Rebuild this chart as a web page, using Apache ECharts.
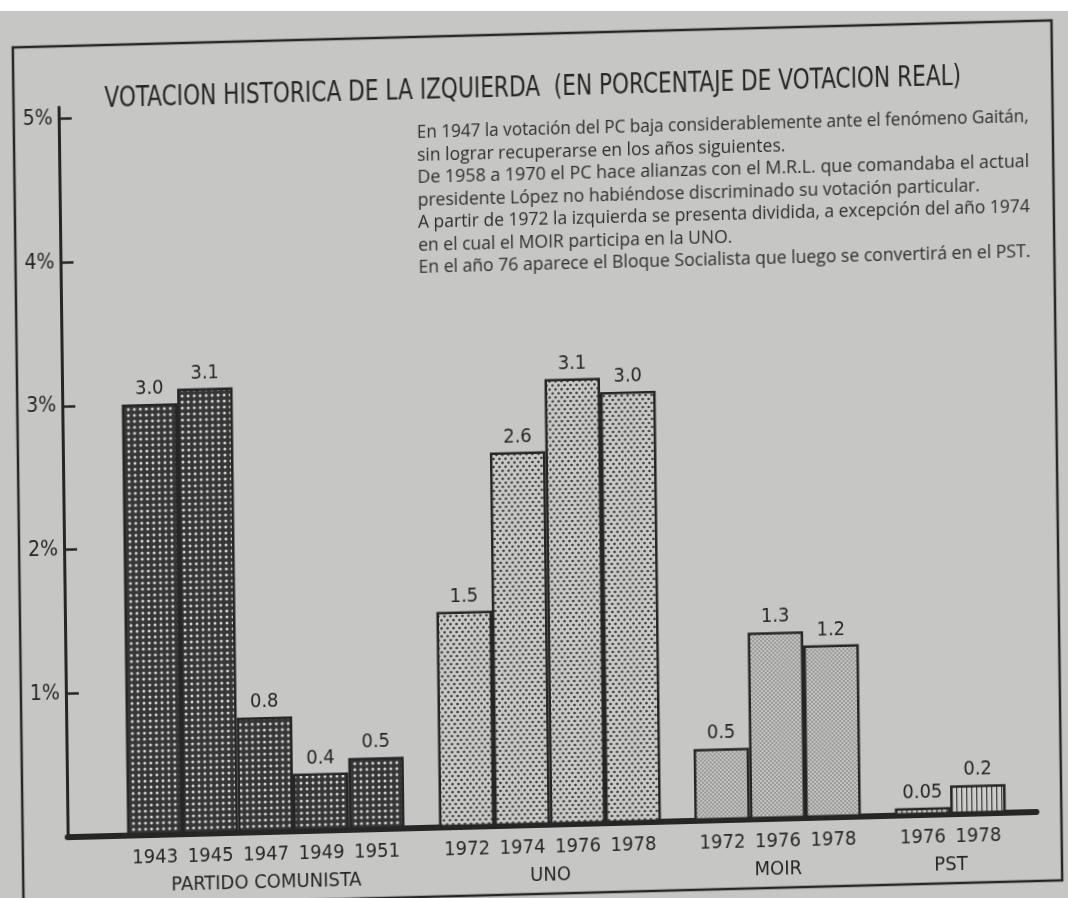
<!DOCTYPE html>
<html>
<head>
<meta charset="utf-8">
<title>Votación histórica de la izquierda</title>
<script src="https://cdn.jsdelivr.net/npm/echarts@6/dist/echarts.min.js"></script>
<style>
  html, body { margin: 0; padding: 0; background: #c6c6c4; overflow: hidden; }
  /* the scan is slightly skewed, so the whole chart is too */
  #chart {
    position: absolute; left: 0; top: 0; width: 1068px; height: 898px;
    transform: matrix(1, -0.026, 0.0125, 1, 0, 0);
    transform-origin: 534px 449px;
  }
  #edge { position: absolute; left: 0; top: 0; width: 1068px; height: 11px; background: #fff; }
</style>
</head>
<body>
<div id="chart"></div>
<div id="edge"></div>
<script>
// datos (porcentaje de votación real)
const pcYears = ["1943", "1945", "1947", "1949", "1951"];
const pcValues = [3.0, 3.1, 0.8, 0.4, 0.5];
const unoYears = ["1972", "1974", "1976", "1978"];
const unoValues = [1.5, 2.6, 3.1, 3.0];
const moirYears = ["1972", "1976", "1978"];
const moirValues = [0.5, 1.3, 1.2];
const pstYears = ["1976", "1978"];
const pstValues = [0.05, 0.2];
const groupNames = ["PARTIDO COMUNISTA", "UNO", "MOIR", "PST"];
const yTicks = [1, 2, 3, 4, 5];

const titleText = "VOTACION HISTORICA DE LA IZQUIERDA  (EN PORCENTAJE DE VOTACION REAL)";
const notes = [
  "En 1947 la votación del PC baja considerablemente ante el fenómeno Gaitán,",
  "sin lograr recuperarse en los años siguientes.",
  "De 1958 a 1970 el PC hace alianzas con el M.R.L. que comandaba el actual",
  "presidente López no habiéndose discriminado su votación particular.",
  "A partir de 1972 la izquierda se presenta dividida, a excepción del año 1974",
  "en el cual el MOIR participa en la UNO.",
  "En el año 76 aparece el Bloque Socialista que luego se convertirá en el PST.",
];

const INK = "#262626";
const NARROW = "'DejaVu Sans Condensed', 'Liberation Sans Narrow', sans-serif";
const NOTE_FONT = "18px 'Open Sans', 'Noto Sans', sans-serif";
const TOP = 95, BOTTOM = 73, YMAX = 5.08;

// tramas de las barras
const makePattern = (w, h, bg, draw) => {
  const c = document.createElement("canvas");
  c.width = w; c.height = h;
  const ctx = c.getContext("2d");
  ctx.fillStyle = bg;
  ctx.fillRect(0, 0, w, h);
  draw(ctx);
  return { image: c, repeat: "repeat" };
};
const dot = (ctx, x, y, r, color) => {
  ctx.fillStyle = color;
  ctx.beginPath(); ctx.arc(x, y, r, 0, Math.PI * 2); ctx.fill();
};
const patterns = [
  makePattern(6, 6, "#363636", (ctx) => dot(ctx, 3, 3, 1.5, "#d4d4d2")),
  makePattern(6, 8, "#c9c9c7", (ctx) => { dot(ctx, 1.5, 2, 1.3, "#3a3a3a"); dot(ctx, 4.5, 6, 1.3, "#3a3a3a"); }),
  makePattern(4, 4, "#c6c6c4", (ctx) => { dot(ctx, 1, 1, 0.75, "#505050"); dot(ctx, 3, 3, 0.75, "#505050"); }),
  makePattern(5, 5, "#cdcdcb", (ctx) => { ctx.fillStyle = "#3a3a3a"; ctx.fillRect(2, 0, 1.2, 5); }),
];

const groups = [
  { years: pcYears, values: pcValues, left: 122.5, width: 277.5 },
  { years: unoYears, values: unoValues, left: 434.5, width: 222 },
  { years: moirYears, values: moirValues, left: 690, width: 166.5 },
  { years: pstYears, values: pstValues, left: 890.5, width: 111 },
];

// medir textos para ajustar anchos
const measure = (text, font) => {
  const ctx = document.createElement("canvas").getContext("2d");
  ctx.font = font;
  return ctx.measureText(text).width;
};
const TITLE_FONT = "29px " + NARROW;
const titleScale = 857 / measure(titleText, TITLE_FONT);
const justified = [true, false, true, false, true, false, true];
const fullScales = notes.filter((t, i) => justified[i]).map((t) => 612 / measure(t, NOTE_FONT));
const baseScale = fullScales.reduce((a, b) => a + b, 0) / fullScales.length;

const myChart = echarts.init(document.getElementById("chart"), null, { renderer: "canvas" });

const valueLabel = (p) => (p.value < 0.1 ? p.value.toFixed(2) : p.value.toFixed(1));
const labelFont = { color: INK, fontSize: 20, fontFamily: NARROW };

const option = {
  animation: false,
  backgroundColor: "transparent",
  textStyle: { fontFamily: NARROW },
  grid: [
    { left: 63, right: 36, top: TOP, bottom: BOTTOM },
    ...groups.map((g) => ({ left: g.left, width: g.width, top: TOP, bottom: BOTTOM })),
  ],
  xAxis: [
    {
      gridIndex: 0, type: "category", data: [""],
      axisLine: { lineStyle: { color: INK, width: 6 } },
      axisTick: { show: false }, axisLabel: { show: false },
    },
    ...groups.map((g, i) => ({
      gridIndex: i + 1, type: "category", data: g.years,
      name: groupNames[i], nameLocation: "middle", nameGap: 41,
      nameTextStyle: labelFont,
      axisLine: { show: false }, axisTick: { show: false },
      axisLabel: { interval: 0, margin: 13, ...labelFont },
    })),
  ],
  yAxis: [
    {
      gridIndex: 0, type: "value", min: 0, max: YMAX,
      splitLine: { show: false },
      axisLine: { show: true, lineStyle: { color: INK, width: 3 } },
      axisTick: { show: true, inside: true, length: 13, customValues: yTicks, lineStyle: { color: INK, width: 2.5 } },
      axisLabel: { customValues: yTicks, formatter: (v) => v + "%", margin: 6, ...labelFont, fontSize: 21 },
    },
    ...groups.map((g, i) => ({ gridIndex: i + 1, type: "value", min: 0, max: YMAX, show: false })),
  ],
  series: groups.map((g, i) => ({
    type: "bar",
    xAxisIndex: i + 1,
    yAxisIndex: i + 1,
    data: g.values,
    barWidth: "100%",
    silent: true,
    itemStyle: { color: patterns[i], borderColor: INK, borderWidth: 2.5 },
    label: { show: true, position: "top", distance: 5, formatter: valueLabel, ...labelFont },
  })),
  graphic: [
    {
      type: "rect", silent: true,
      shape: { x: 18, y: 34, width: 1039, height: 860 },
      style: { fill: "none", stroke: INK, lineWidth: 2.5 },
    },
    {
      type: "text", x: 109, y: 88, scaleX: titleScale, silent: true,
      style: { text: titleText, font: TITLE_FONT, fill: INK, textAlign: "left", textVerticalAlign: "middle" },
    },
    ...notes.map((t, i) => ({
      type: "text", x: 421, y: 130 + i * 22.5, silent: true,
      scaleX: justified[i] ? 612 / measure(t, NOTE_FONT) : baseScale,
      style: { text: t, font: NOTE_FONT, fill: "#2e2e2e", textAlign: "left", textVerticalAlign: "middle" },
    })),
  ],
};
myChart.setOption(option);
</script>
</body>
</html>
